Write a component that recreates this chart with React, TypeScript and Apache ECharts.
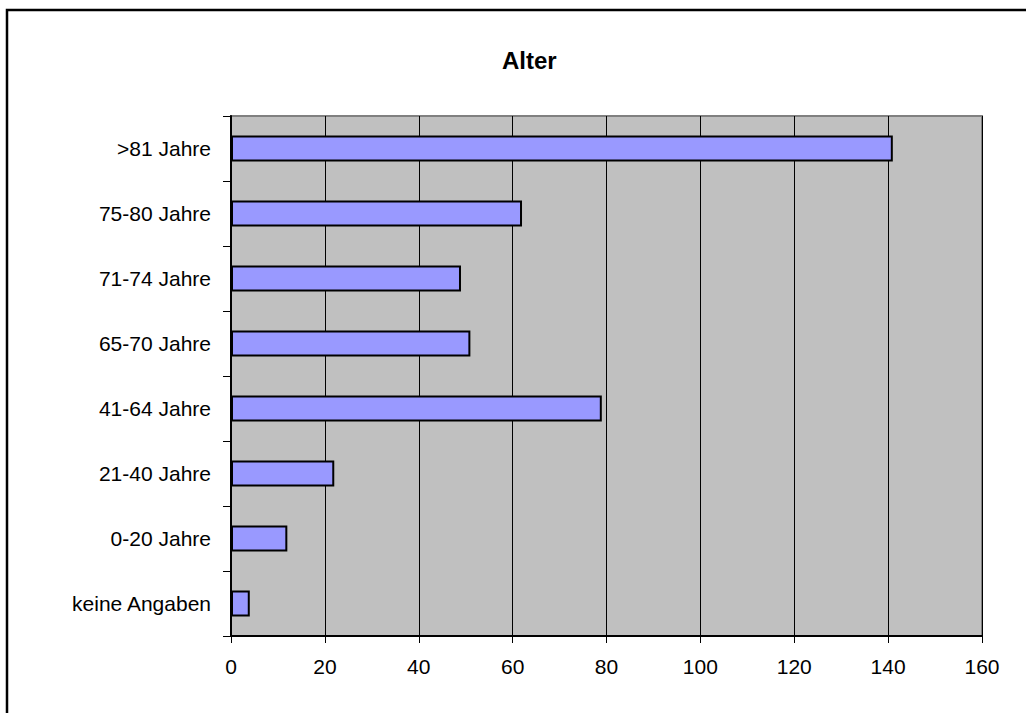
import React, { useEffect, useRef } from "react";
import * as echarts from "echarts";

// Age groups, listed bottom to top as the category axis draws them
const ageGroups = [
  "keine Angaben",
  "0-20 Jahre",
  "21-40 Jahre",
  "41-64 Jahre",
  "65-70 Jahre",
  "71-74 Jahre",
  "75-80 Jahre",
  ">81 Jahre",
];
const counts = [4, 12, 22, 79, 51, 49, 62, 141];
const xTicks = { min: 0, max: 160, interval: 20 };
const chartTitle = "Alter";

export default function App() {
  const ref = useRef<HTMLDivElement>(null);

  useEffect(() => {
    if (!ref.current) return;
    const chart = echarts.init(ref.current, null, { renderer: "svg" });
    const font = "Liberation Sans, Arial, sans-serif";
    chart.setOption({
      animation: false,
      backgroundColor: "#ffffff",
      title: {
        text: chartTitle,
        left: 497,
        top: 43,
        textStyle: {
          fontFamily: font,
          fontWeight: "bold",
          fontSize: 24,
          color: "#000",
        },
      },
      graphic: [
        {
          type: "rect",
          shape: { x: 7, y: 10, width: 1040, height: 740 },
          style: { fill: "none", stroke: "#000", lineWidth: 2.5 },
          silent: true,
          z: 100,
        },
      ],
      grid: {
        left: 231,
        top: 116,
        right: 44,
        bottom: 77,
        show: true,
        backgroundColor: "#C0C0C0",
        borderColor: "#808080",
        borderWidth: 2,
      },
      xAxis: {
        type: "value",
        min: xTicks.min,
        max: xTicks.max,
        interval: xTicks.interval,
        axisLine: { show: true, lineStyle: { color: "#000", width: 2 } },
        axisTick: { show: true, length: 7, lineStyle: { color: "#000" } },
        axisLabel: {
          margin: 20,
          fontFamily: font,
          fontSize: 21,
          color: "#000",
        },
        splitLine: { show: true, lineStyle: { color: "#000", width: 1 } },
      },
      yAxis: {
        type: "category",
        data: ageGroups,
        axisLine: { show: true, lineStyle: { color: "#000", width: 2 } },
        axisTick: { show: true, length: 8, lineStyle: { color: "#000" } },
        axisLabel: {
          margin: 20,
          fontFamily: font,
          fontSize: 21,
          color: "#000",
        },
        splitLine: { show: false },
      },
      series: [
        {
          type: "bar",
          data: counts,
          barWidth: 26,
          itemStyle: {
            color: "#9999FF",
            borderColor: "#000",
            borderWidth: 2,
          },
        },
      ],
    });
    return () => chart.dispose();
  }, []);

  return (
    <div
      ref={ref}
      style={{ position: "fixed", left: 0, top: 0, width: 1026, height: 713 }}
    />
  );
}
